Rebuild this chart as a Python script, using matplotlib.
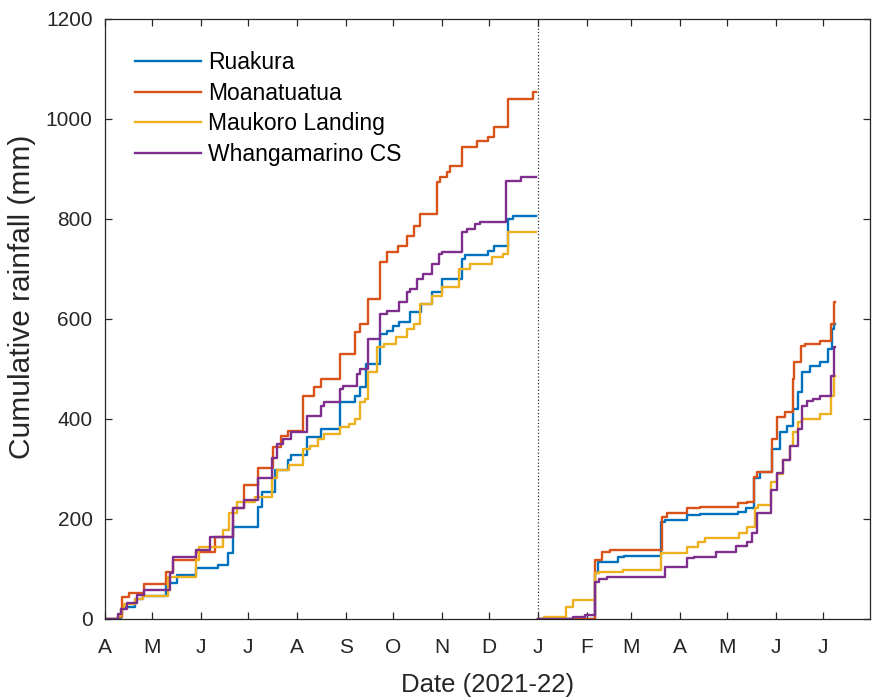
import numpy as np
import matplotlib
matplotlib.use("Agg")
import matplotlib.pyplot as plt

plt.rcParams['font.family'] = ['Liberation Sans', 'DejaVu Sans']

stations = ['Ruakura', 'Moanatuatua', 'Maukoro Landing', 'Whangamarino CS']
colors = ['#0072BD', '#D95319', '#EDB120', '#7E2F8E']

# period 1: days since 2021-04-01, cumulative rainfall (mm) after each step
start_1 = np.datetime64('2021-04-01')
end_1 = 274
ruakura_days_1 = [10, 11, 19, 24, 39, 46, 58, 72, 78, 81, 97, 100, 108, 116, 118, 128, 137,
                  149, 159, 162, 166, 175, 179, 183, 187, 194, 201, 208, 214, 227, 229, 243,
                  247, 256, 259]
ruakura_mm_1 = [10, 24, 40, 46, 72, 88, 102, 108, 132, 184, 224, 254, 298, 318, 328, 363, 379,
                433, 445, 463, 509, 569, 575, 585, 593, 613, 629, 653, 679, 719, 727, 735,
                745, 799, 805]
moana_days_1 = [8, 11, 15, 25, 39, 43, 58, 70, 81, 88, 97, 107, 112, 116, 126, 133, 137, 149,
                159, 162, 167, 175, 179, 186, 192, 196, 200, 211, 213, 217, 219, 227, 236,
                243, 247, 256, 272]
moana_mm_1 = [4, 44, 52, 70, 94, 118, 134, 164, 222, 268, 302, 343, 365, 375, 445, 463, 479,
              529, 573, 589, 639, 713, 733, 745, 765, 785, 809, 873, 883, 893, 905, 943, 955,
              963, 983, 1040, 1054]
maukoro_days_1 = [8, 10, 12, 19, 24, 40, 58, 60, 75, 79, 84, 95, 106, 109, 117, 126, 130, 135,
                  139, 149, 155, 159, 162, 165, 167, 173, 177, 185, 192, 196, 200, 208, 214,
                  225, 232, 246, 253, 256]
maukoro_mm_1 = [5, 20, 30, 40, 46, 84, 118, 144, 178, 212, 234, 244, 282, 298, 308, 339, 345,
                359, 369, 383, 389, 400, 433, 440, 493, 543, 549, 563, 579, 590, 629, 645, 663,
                699, 709, 723, 730, 773]
whanga_days_1 = [8, 10, 14, 20, 25, 41, 43, 58, 67, 81, 88, 97, 106, 109, 113, 118, 128, 137,
                 139, 149, 151, 160, 162, 167, 175, 179, 187, 192, 194, 198, 202, 208, 212, 214,
                 227, 230, 235, 238, 255, 264]
whanga_mm_1 = [10, 20, 32, 48, 58, 92, 124, 138, 164, 222, 238, 282, 322, 349, 359, 373, 405,
               425, 433, 459, 465, 489, 500, 559, 609, 615, 633, 653, 659, 679, 689, 709, 729,
               733, 773, 779, 789, 793, 875, 883]

# period 2: days since 2022-01-01
start_2 = np.datetime64('2022-01-01')
end_2 = 189
ruakura_days_2 = [36, 38, 51, 55, 78, 81, 95, 103, 127, 132, 137, 141, 149, 154, 158, 162, 165,
                  168, 173, 179, 184, 187, 188]
ruakura_mm_2 = [92, 114, 124, 126, 194, 198, 208, 210, 214, 222, 282, 294, 339, 373, 385, 419,
                453, 493, 505, 513, 539, 579, 589]
moana_days_2 = [36, 41, 46, 79, 82, 95, 103, 127, 133, 137, 139, 149, 152, 157, 162, 163, 167,
                170, 179, 186, 188]
moana_mm_2 = [118, 134, 138, 204, 212, 222, 224, 232, 234, 284, 294, 359, 403, 413, 479, 513,
              545, 549, 555, 589, 633]
maukoro_days_2 = [4, 18, 22, 36, 39, 54, 78, 95, 102, 106, 128, 133, 138, 140, 148, 152, 156,
                  160, 162, 165, 168, 179, 186, 188]
maukoro_mm_2 = [3, 24, 38, 92, 94, 98, 132, 144, 154, 162, 172, 184, 222, 228, 274, 290, 318,
                345, 373, 393, 399, 409, 445, 485]
whanga_days_2 = [22, 30, 36, 39, 44, 81, 95, 99, 113, 126, 133, 136, 139, 148, 152, 156, 160,
                 165, 168, 171, 175, 179, 186, 188]
whanga_mm_2 = [4, 8, 74, 80, 84, 104, 122, 124, 134, 145, 154, 172, 212, 258, 292, 318, 345,
               379, 425, 435, 439, 445, 485, 543]

period_1 = [(ruakura_days_1, ruakura_mm_1), (moana_days_1, moana_mm_1),
            (maukoro_days_1, maukoro_mm_1), (whanga_days_1, whanga_mm_1)]
period_2 = [(ruakura_days_2, ruakura_mm_2), (moana_days_2, moana_mm_2),
            (maukoro_days_2, maukoro_mm_2), (whanga_days_2, whanga_mm_2)]

month_labels = ['A', 'M', 'J', 'J', 'A', 'S', 'O', 'N', 'D', 'J', 'F', 'M', 'A', 'M', 'J', 'J']


def steps(start, days, mm, end):
    d = np.array([0] + list(days) + [end])
    v = np.array([0] + list(mm) + [mm[-1]])
    return start + d, v


fig = plt.figure(figsize=(8.73, 6.98), dpi=100)
ax = fig.add_axes([0.1203, 0.1132, 0.8763, 0.8596])

for i, name in enumerate(stations):
    x, y = steps(start_1, *period_1[i], end_1)
    ax.plot(x, y, color=colors[i], lw=1.7, drawstyle='steps-post', label=name)
    x, y = steps(start_2, *period_2[i], end_2)
    ax.plot(x, y, color=colors[i], lw=1.7, drawstyle='steps-post')

ax.axvline(start_2, color='#333333', lw=0.9, ls=':', zorder=0)

months = np.arange(np.datetime64('2021-04'), np.datetime64('2022-08'), np.timedelta64(1, 'M'))
ax.set_xticks(months.astype('datetime64[D]'))
ax.set_xticklabels(month_labels)
ax.set_xlim(np.datetime64('2021-04-01'), np.datetime64('2022-07-31'))
ax.set_ylim(0, 1200)
ax.set_yticks(range(0, 1201, 200))

ax.tick_params(direction='in', top=True, right=True, length=5, width=0.9,
               labelsize=15, colors='#262626')
ax.tick_params(axis='x', pad=14)
ax.tick_params(axis='y', pad=9)
for s in ax.spines.values():
    s.set_color('#262626')
    s.set_linewidth(0.9)

ax.set_xlabel('Date (2021-22)', fontsize=18.5, color='#262626', labelpad=11)
ax.set_ylabel('Cumulative rainfall (mm)', fontsize=21.5, color='#262626')
ax.yaxis.set_label_coords(-0.090, 0.537)

ax.legend(loc='upper left', bbox_to_anchor=(0.039, 0.947), frameon=False, fontsize=16.5,
          handlelength=2.9, handletextpad=0.3, labelspacing=0.34, borderpad=0,
          borderaxespad=0)

fig.savefig('out.png', dpi=100)
